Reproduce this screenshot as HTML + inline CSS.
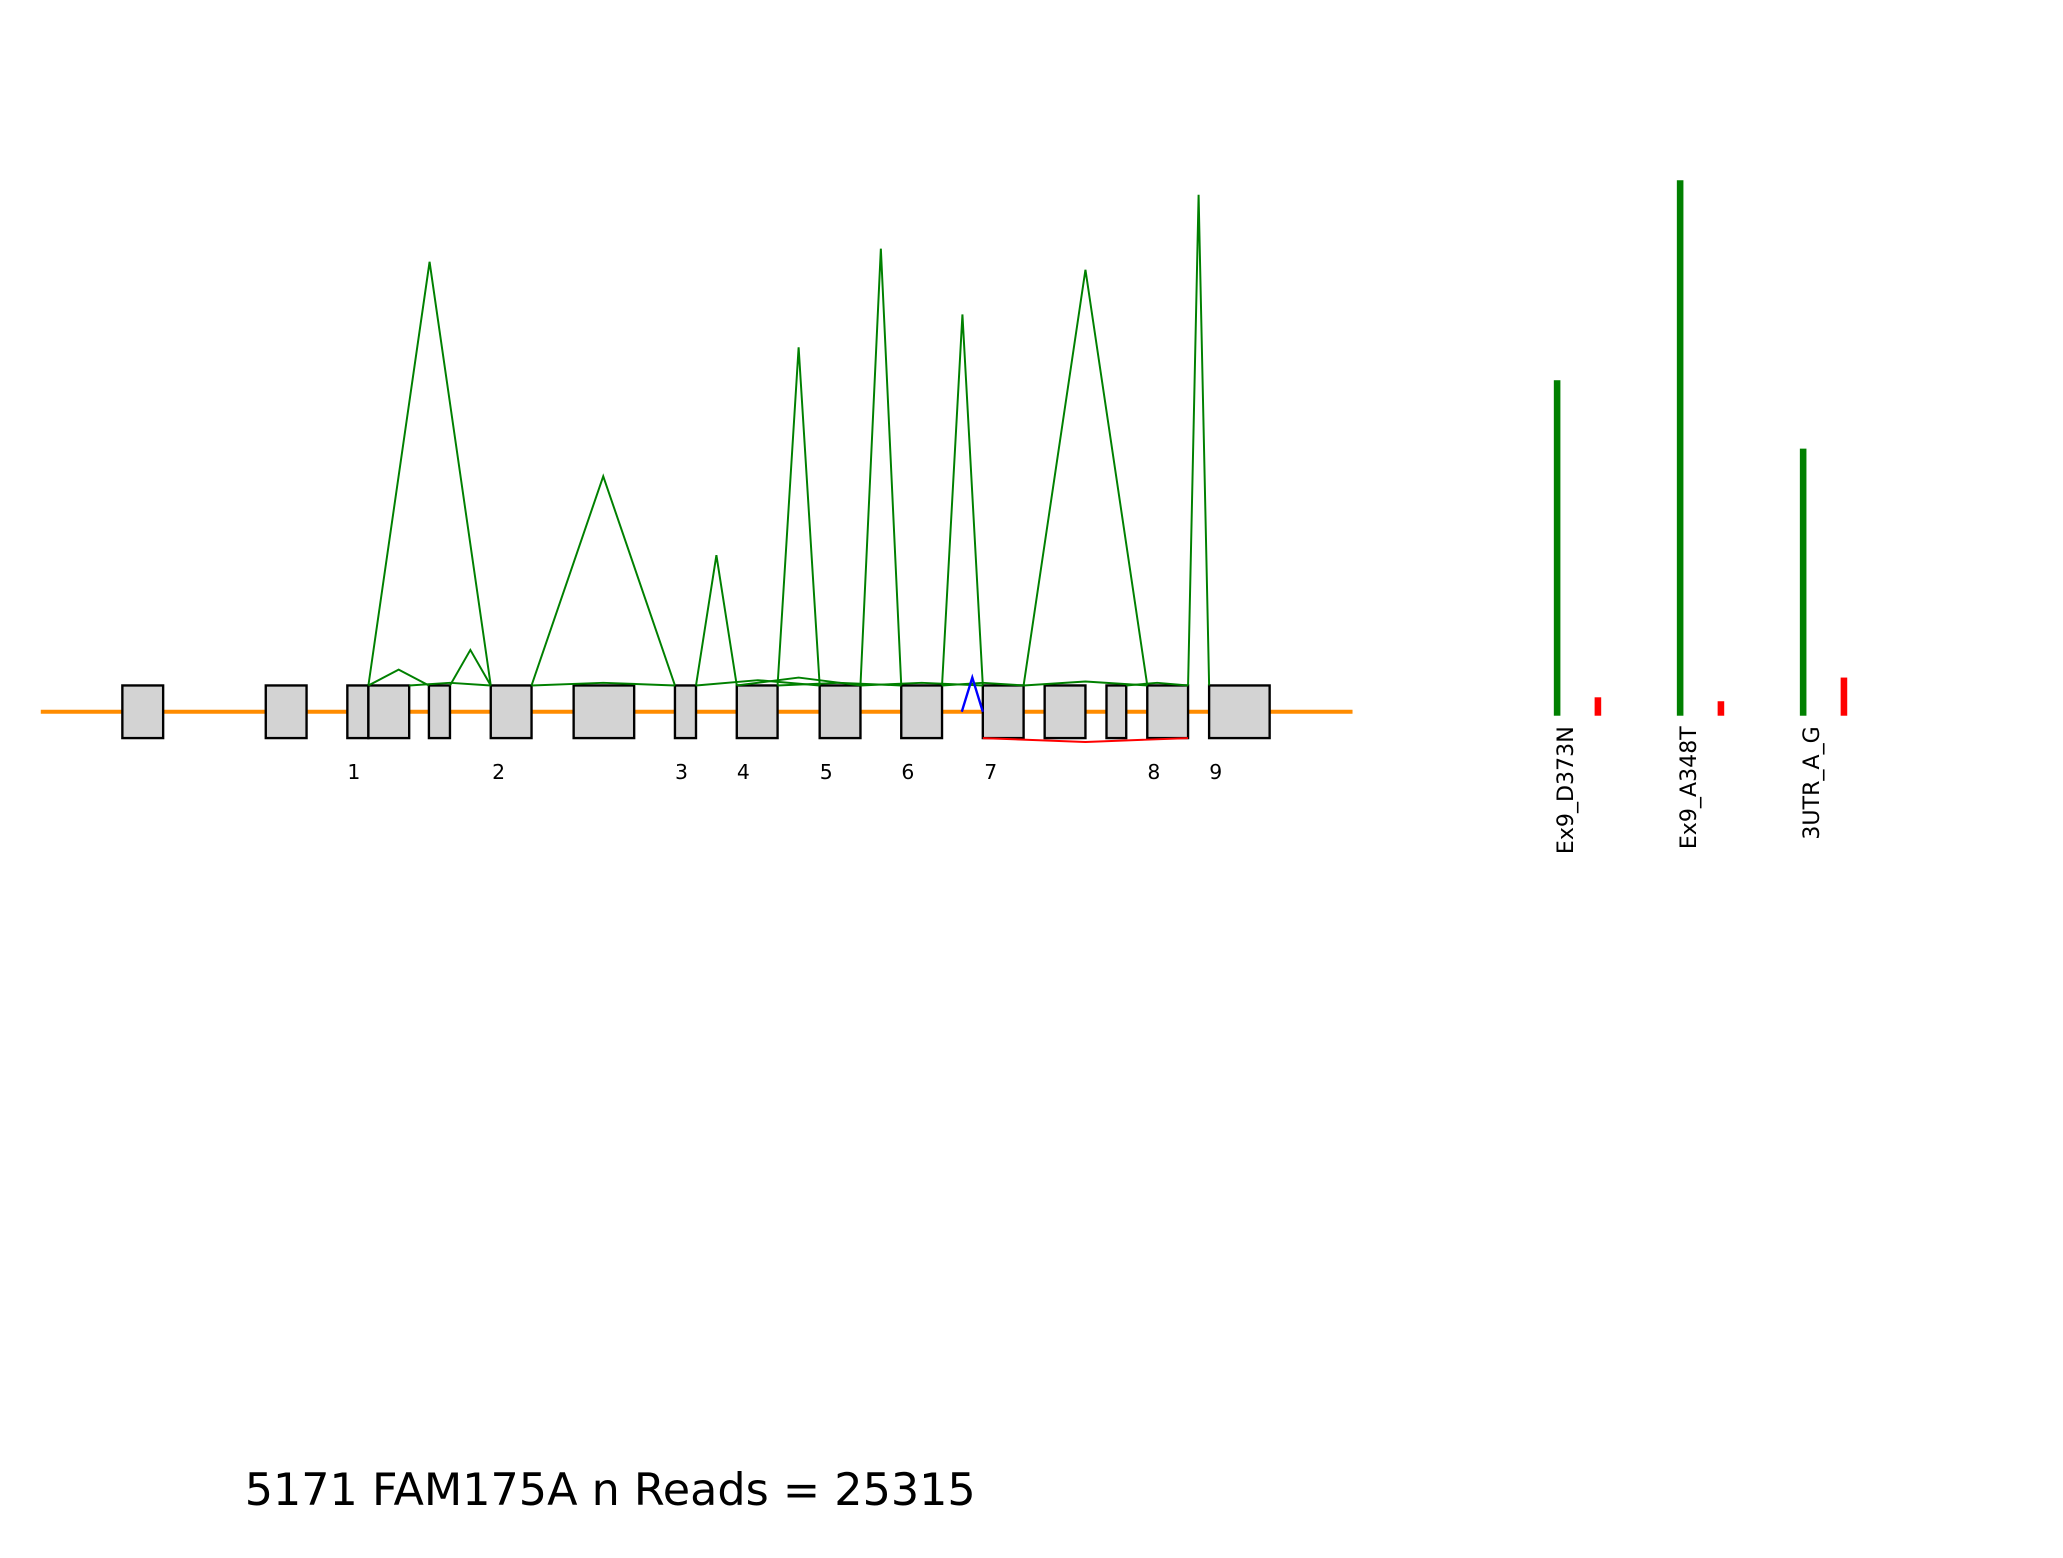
<!DOCTYPE html>
<html><head><meta charset="utf-8"><style>html,body{margin:0;padding:0;background:#fff}svg{display:block}</style></head>
<body>
<svg width="2063" height="1558" viewBox="0 0 1568 1184.2" preserveAspectRatio="none" xmlns="http://www.w3.org/2000/svg" font-family="'DejaVu Sans','Liberation Sans',sans-serif">
<g id="gene"></g>
<g id="bars"></g>
<text x="186" y="1144" font-size="33.8">5171 FAM175A n Reads = 25315</text>
</svg>
<script>
const exonStarts=[93,202,264,280,326,373,436,513,560,623,685,747,794,841,872,919];
const exonEnds=[124,233,280,311,342,404,482,529,591,654,716,778,825,856,903,965];
const exonLabels=['1','2','3','4','5','6','7','8','9'];
const exonLabelPos=[269,379,518,565,628,690,753,877,924];
const juncStart=[280,280,342,404,529,591,654,716,778,903,311,404,529,560,591,654,716,778,856];
const juncEnd=[373,326,373,513,560,623,685,747,872,919,373,513,623,654,685,747,778,872,903];
const juncReads=[322,12,27,159,99,257,332,282,316,373,2,2,4,6,2,2,2,3,2];
const bluePeak=[[731,747,26]];
const redJunc=[[747,903,3]];
const snpNames=['Ex9_D373N','Ex9_A348T','3UTR_A_G'];
const snpRef=[255,407,203];
const snpAlt=[14,11,29];
const NS='http://www.w3.org/2000/svg';
function mk(p,t,a){const e=document.createElementNS(NS,t);for(const k in a)e.setAttribute(k,a[k]);p.appendChild(e);return e;}
const g=document.getElementById('gene'),b=document.getElementById('bars');
const yTop=521,yBot=561,yAx=541;
const yJ=v=>yTop-v;
let l=mk(g,'line',{x1:31,x2:1028,y1:yAx,y2:yAx,stroke:'#ff8c00','stroke-width':3});


exonStarts.forEach((s,i)=>{const r=mk(g,'rect',{x:s,y:yTop,width:exonEnds[i]-s,height:yBot-yTop,fill:'#d3d3d3',stroke:'#000','stroke-width':1.8});

});
exonLabels.forEach((t,i)=>{const e=mk(g,'text',{x:exonLabelPos[i],y:592,'font-size':15.5,'text-anchor':'middle'});e.textContent=t;

});
juncStart.forEach((s,i)=>{const e=juncEnd[i],m=(s+e)/2;const p=mk(g,'polyline',{points:`${s},${yTop} ${m},${yJ(juncReads[i])} ${e},${yTop}`,fill:'none',stroke:'green','stroke-width':1.5});

});
bluePeak.forEach(([s,e,v])=>{const p=mk(g,'polyline',{points:`${s},${yAx} ${(s+e)/2},${yAx-v} ${e},${yAx}`,fill:'none',stroke:'blue','stroke-width':1.8});

});
redJunc.forEach(([s,e,v])=>{const p=mk(g,'polyline',{points:`${s},${yBot} ${(s+e)/2},${yBot+v} ${e},${yBot}`,fill:'none',stroke:'red','stroke-width':1.5});

});
const base=544,x0=1183.5,step=93.5;
snpNames.forEach((n,i)=>{const x=x0+i*step;
const gr=mk(b,'rect',{x:x-2.5,y:base-snpRef[i],width:5,height:snpRef[i],fill:'green'});


const rr=mk(b,'rect',{x:x+31-2.5,y:base-snpAlt[i],width:5,height:snpAlt[i],fill:'red'});


const t=mk(b,'text',{x:0,y:0,'font-size':16.8,'text-anchor':'end',transform:`translate(${x+12},552) rotate(-90)`});t.textContent=n;

});
</script>
</body></html>
